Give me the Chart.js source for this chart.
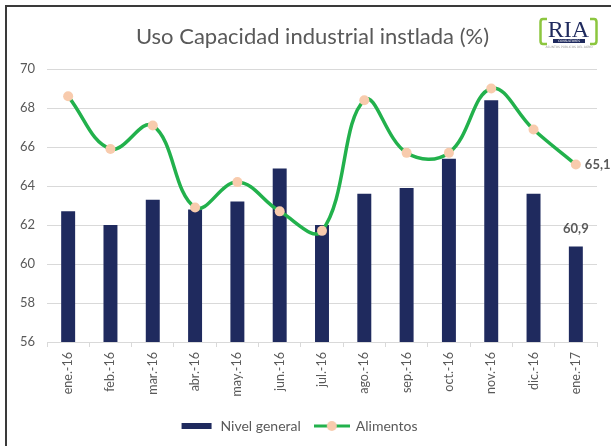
<!DOCTYPE html>
<html>
<head>
<meta charset="utf-8">
<script src="https://cdn.jsdelivr.net/npm/chart.js@4.4.1/dist/chart.umd.min.js"></script>
<style>
  html, body { margin: 0; padding: 0; background: #fff; }
  #wrap { position: relative; width: 611px; height: 446px; overflow: hidden; }
  #frame { position: absolute; left: 5px; top: 5px; width: 700px; height: 600px; border: 2px solid #3a3a3a; box-sizing: border-box; }
  #chart { position: absolute; left: 0; top: 0; }
</style>
</head>
<body>
<div id="wrap">
  <div id="frame"></div>
  <canvas id="chart" width="611" height="446"></canvas>
</div>
<script>
// data
const months = ['ene.-16', 'feb.-16', 'mar.-16', 'abr.-16', 'may.-16', 'jun.-16', 'jul.-16',
                'ago.-16', 'sep.-16', 'oct.-16', 'nov.-16', 'dic.-16', 'ene.-17'];
const nivelGeneral = [62.7, 62.0, 63.3, 62.8, 63.2, 64.9, 62.0, 63.6, 63.9, 65.4, 68.4, 63.6, 60.9];
const alimentos    = [68.6, 65.9, 67.1, 62.9, 64.2, 62.7, 61.7, 68.4, 65.7, 65.7, 69.0, 66.9, 65.1];
const seriesNames = ['Nivel general', 'Alimentos'];
const chartTitle = 'Uso Capacidad industrial instlada (%)';
const yMin = 56, yMax = 70, yStep = 2;

const navy = '#1f2a5e';
const green = '#22b14c';
const peach = '#f8cbad';
const grey = '#595959';
const FONT = 'Lato';

function fmt(v) {
  return v.toFixed(1).replace('.', ',');
}

// little pictures for the legend
function barIcon() {
  const c = document.createElement('canvas');
  c.width = 32; c.height = 8;
  const g = c.getContext('2d');
  g.fillStyle = navy;
  g.fillRect(1, 1, 30, 6);
  return c;
}
function lineIcon() {
  const c = document.createElement('canvas');
  c.width = 36; c.height = 12;
  const g = c.getContext('2d');
  g.strokeStyle = green;
  g.lineWidth = 3;
  g.beginPath(); g.moveTo(0, 6); g.lineTo(36, 6); g.stroke();
  g.fillStyle = peach;
  g.beginPath(); g.arc(18, 6, 5, 0, Math.PI * 2); g.fill();
  return c;
}

const valueLabels = {
  id: 'valueLabels',
  afterDatasetsDraw(chart) {
    const ctx = chart.ctx;
    const last = months.length - 1;
    const b = chart.getDatasetMeta(0).data[last];
    const p = chart.getDatasetMeta(1).data[last];
    ctx.save();
    ctx.font = 'bold 13px ' + FONT;
    ctx.fillStyle = grey;
    ctx.textBaseline = 'middle';
    ctx.textAlign = 'center';
    ctx.fillText(fmt(nivelGeneral[last]), b.x, b.y - 18);
    ctx.textAlign = 'left';
    ctx.fillText(fmt(alimentos[last]), p.x + 9, p.y);
    ctx.restore();
  }
};

// title + logo drawn on top
const header = {
  id: 'header',
  afterDraw(chart) {
    const ctx = chart.ctx;
    ctx.save();
    ctx.fillStyle = grey;
    ctx.font = '22px ' + FONT;
    ctx.textAlign = 'center';
    ctx.textBaseline = 'alphabetic';
    ctx.fillText(chartTitle, 312.5, 44);

    ctx.strokeStyle = '#8cc63f';
    ctx.lineWidth = 2.5;
    ctx.beginPath();
    ctx.moveTo(547, 19); ctx.lineTo(543, 19); ctx.quadraticCurveTo(540.5, 19, 540.5, 22);
    ctx.lineTo(540.5, 41); ctx.quadraticCurveTo(540.5, 44, 543, 44); ctx.lineTo(547, 44);
    ctx.moveTo(590, 19); ctx.lineTo(594, 19); ctx.quadraticCurveTo(596.5, 19, 596.5, 22);
    ctx.lineTo(596.5, 41); ctx.quadraticCurveTo(596.5, 44, 594, 44); ctx.lineTo(590, 44);
    ctx.stroke();
    ctx.fillStyle = navy;
    ctx.font = '24px "Liberation Serif"';
    ctx.fillText('RIA', 568.5, 37);
    ctx.fillRect(553, 39, 32, 4);
    ctx.fillStyle = '#fff';
    ctx.font = '3px "DejaVu Sans"';
    ctx.fillText('CONSULTORES', 569, 42);
    ctx.fillStyle = '#999';
    ctx.fillText('ASUNTOS PÚBLICOS DEL AGRO', 569, 47.5);
    ctx.restore();
  }
};

new Chart(document.getElementById('chart'), {
  data: {
    labels: months,
    datasets: [
      {
        type: 'bar',
        label: seriesNames[0],
        data: nivelGeneral,
        backgroundColor: navy,
        barPercentage: 0.33,
        categoryPercentage: 1,
        order: 2
      },
      {
        type: 'line',
        label: seriesNames[1],
        data: alimentos,
        borderColor: green,
        borderWidth: 3.5,
        tension: 0.4,
        pointRadius: 5,
        pointBackgroundColor: peach,
        pointBorderWidth: 0,
        fill: false,
        order: 1
      }
    ]
  },
  options: {
    responsive: false,
    animation: false,
    layout: { padding: { left: 0, right: 14, top: 69, bottom: 3 } },
    scales: {
      x: {
        offset: true,
        grid: { offset: true, drawOnChartArea: false, drawTicks: true, tickLength: 5, color: '#d9d9d9' },
        border: { color: '#d9d9d9' },
        ticks: { minRotation: 90, maxRotation: 90, padding: 5, color: grey, font: { family: FONT, size: 12.5 } },
        afterFit(scale) { scale.height = 63; }
      },
      y: {
        min: yMin,
        max: yMax,
        ticks: { stepSize: yStep, padding: 12, color: grey, font: { family: FONT, size: 13 } },
        grid: { color: '#d9d9d9', drawTicks: false },
        border: { display: false },
        afterFit(scale) { scale.width = 47; }
      }
    },
    plugins: {
      title: { display: false },
      legend: {
        position: 'bottom',
        labels: {
          usePointStyle: true,
          pointStyleWidth: 34,
          padding: 14,
          color: grey,
          font: { family: FONT, size: 14 },
          generateLabels() {
            return [
              { text: seriesNames[0], pointStyle: barIcon(), fillStyle: navy, strokeStyle: navy, lineWidth: 0, hidden: false, datasetIndex: 0, fontColor: grey },
              { text: seriesNames[1], pointStyle: lineIcon(), fillStyle: peach, strokeStyle: green, lineWidth: 0, hidden: false, datasetIndex: 1, fontColor: grey }
            ];
          }
        }
      },
      tooltip: { enabled: false }
    }
  },
  plugins: [valueLabels, header]
});
</script>
</body>
</html>
